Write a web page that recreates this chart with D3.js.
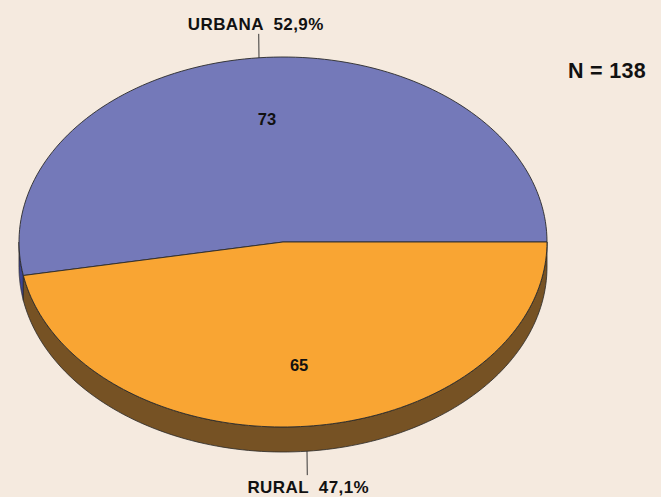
<!DOCTYPE html>
<html>
<head>
<meta charset="utf-8">
<script src="https://cdn.jsdelivr.net/npm/d3@7"></script>
<style>
  html, body { margin: 0; padding: 0; background: #F5EADF; }
  svg { display: block; }
</style>
</head>
<body>
<script>
const categories = ["URBANA", "RURAL"];
const values = [73, 65];
const percentLabels = ["52,9%", "47,1%"];
const totalLabel = "N = 138";

const topColors = ["#7479B9", "#F9A533"];
const sideColors = ["#3E4593", "#765224"];

const W = 661, H = 497;
const cx = 283, cy = 242, rx = 264, ry = 185, depth = 25;

const svg = d3.select("body").append("svg").attr("width", W).attr("height", H);
svg.append("rect").attr("width", W).attr("height", H).attr("fill", "#F5EADF");

const pie = d3.pie().sort(null).value(d => d)(values);
const toT = a => -a;
const px = d3.scaleLinear().domain([-1, 1]).range([cx - rx, cx + rx]);
const py = d3.scaleLinear().domain([-1, 1]).range([cy - ry, cy + ry]);
const pt = (t, dz = 0) => [px(Math.cos(t)), py(Math.sin(t)) + dz];
const line = d3.line();

function arcPts(t1, t2, dz = 0, n = 120) {
  const pts = [];
  for (let i = 0; i <= n; i++) pts.push(pt(t1 + (t2 - t1) * i / n, dz));
  return pts;
}

const slices = pie.map((p, i) => {
  let t1 = toT(p.endAngle), t2 = toT(p.startAngle);
  while (t1 < 0) { t1 += 2 * Math.PI; t2 += 2 * Math.PI; }
  return { i, t1, t2, mid: (t1 + t2) / 2 };
});

const gSide = svg.append("g");
slices.forEach(s => {
  [[0, Math.PI], [2 * Math.PI, 3 * Math.PI]].forEach(([a, b]) => {
    const lo = Math.max(a, s.t1), hi = Math.min(b, s.t2);
    if (hi > lo) {
      const pts = arcPts(lo, hi, 0).concat(arcPts(hi, lo, depth));
      gSide.append("path").attr("d", line(pts) + "Z")
        .attr("fill", sideColors[s.i]).attr("stroke", "#2a2a2a").attr("stroke-width", 0.8)
        .attr("stroke-linejoin", "round");
    }
  });
});

const gTop = svg.append("g");
slices.forEach(s => {
  const pts = [[cx, cy]].concat(arcPts(s.t1, s.t2, 0));
  gTop.append("path").attr("d", line(pts) + "Z")
    .attr("fill", topColors[s.i]).attr("stroke", "#2a2a2a").attr("stroke-width", 0.9)
    .attr("stroke-linejoin", "round");
});

slices.forEach(s => {
  const [x, y] = [cx + (px(Math.cos(s.mid)) - cx) * 0.67, cy + (py(Math.sin(s.mid)) - cy) * 0.67];
  svg.append("text").attr("x", x).attr("y", y + 6)
    .attr("text-anchor", "middle")
    .attr("font-family", "Liberation Sans, Arial, sans-serif").attr("font-weight", "bold")
    .attr("font-size", 16.5).attr("fill", "#111")
    .text(values[s.i]);
});

slices.forEach(s => {
  const front = Math.sin(s.mid) > 0;
  const [x0, y0] = pt(s.mid, front ? depth : 0);
  const dirx = Math.cos(s.mid), diry = Math.sin(s.mid);
  const x1 = x0 + dirx * 24 * 0.12, y1 = y0 + diry * 24;
  svg.append("line").attr("x1", x0).attr("y1", y0).attr("x2", x1).attr("y2", y1)
    .attr("stroke", "#222").attr("stroke-width", 0.9);
  svg.append("text")
    .attr("x", x1 - (front ? -1 : 3)).attr("y", front ? y1 + 17.5 : y1 - 4)
    .attr("text-anchor", "middle")
    .attr("font-family", "Liberation Sans, Arial, sans-serif").attr("font-weight", "bold")
    .attr("font-size", 17).attr("letter-spacing", 0.4).attr("fill", "#111")
    .attr("xml:space", "preserve")
    .text(categories[s.i] + "  " + percentLabels[s.i]);
});

svg.append("text").attr("x", 607).attr("y", 78)
  .attr("text-anchor", "middle")
  .attr("font-family", "Liberation Sans, Arial, sans-serif").attr("font-weight", "bold")
  .attr("font-size", 21.5).attr("letter-spacing", 0.3).attr("fill", "#111")
  .text(totalLabel);
</script>
</body>
</html>
